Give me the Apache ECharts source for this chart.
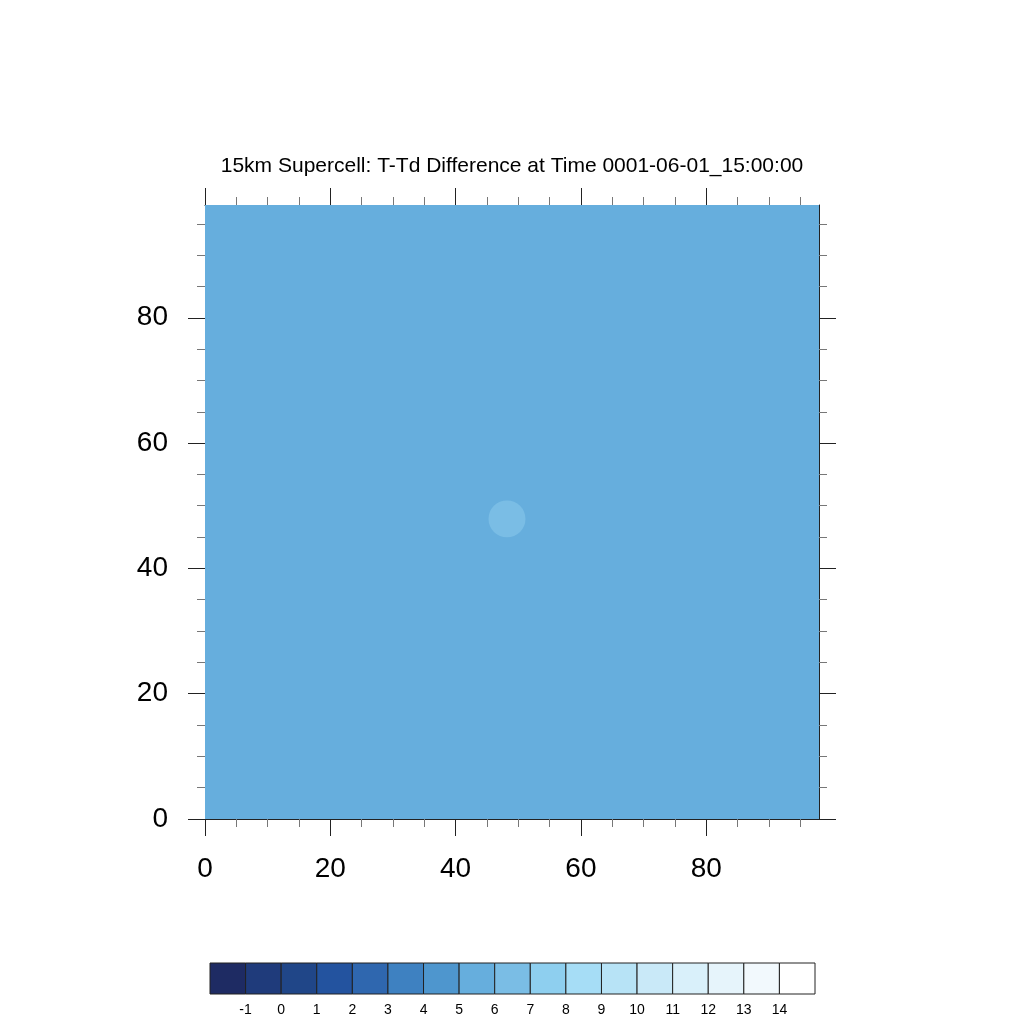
<!DOCTYPE html>
<html>
<head>
<meta charset="utf-8">
<script src="https://cdn.jsdelivr.net/npm/echarts@6/dist/echarts.min.js"></script>
<style>html,body{margin:0;padding:0;background:#fff}#c{width:1024px;height:1024px}</style>
</head>
<body>
<div id="c"></div>
<script>
// ---- data ----
const titleText = '15km Supercell: T-Td Difference at Time 0001-06-01_15:00:00';
const domainMax = 98;
const majorTicks = [0, 20, 40, 60, 80];
const minorTicks = [5, 10, 15, 25, 30, 35, 45, 50, 55, 65, 70, 75, 85, 90, 95];
const levels = [-1, 0, 1, 2, 3, 4, 5, 6, 7, 8, 9, 10, 11, 12, 13, 14];
const colors = ['#1e2b63', '#1f3b7b', '#204688', '#23539f', '#2f67af', '#3e81c1', '#4e96ce', '#66aedd',
                '#7abde5', '#8ecfef', '#a6ddf6', '#b7e3f6', '#c9e9f8', '#d9f0fa', '#e6f4fb', '#f2f9fd', '#ffffff'];
// background field value (x0, x1, y0, y1, value)
const fieldRegions = [[0, 98, 0, 98, 5.5]];
// localized bubble (cx, cy, radius, value)
const fieldBlobs = [[48.2, 47.9, 2.95, 6.5]];

function colorFor(v) {
  let k = 0;
  for (const l of levels) if (v >= l) k++;
  return colors[k];
}

const chart = echarts.init(document.getElementById('c'));
const FONT = '"Liberation Sans", Helvetica, Arial, sans-serif';
const axisCol = '#222';
const minorCol = '#777';

function majorAxis(pos, showLabel, isY) {
  return {
    type: 'value', gridIndex: 0, position: pos, min: 0, max: domainMax,
    axisLine: { show: true, onZero: false, lineStyle: { color: axisCol, width: 1 } },
    axisTick: { show: true, inside: false, length: 17, customValues: majorTicks, lineStyle: { color: axisCol, width: 1 } },
    axisLabel: { show: showLabel, customValues: majorTicks, margin: isY ? 37 : 36, fontSize: 28, color: '#000', fontFamily: FONT,
                 padding: isY ? [4, 0, 0, 0] : 0 },
    splitLine: { show: false }, minorTick: { show: false }
  };
}
function minorAxis(pos) {
  return {
    type: 'value', gridIndex: 0, position: pos, min: 0, max: domainMax,
    axisLine: { show: false, onZero: false },
    axisTick: { show: true, inside: false, length: 8, customValues: minorTicks, lineStyle: { color: minorCol, width: 1 } },
    axisLabel: { show: false }, splitLine: { show: false }
  };
}

const option = {
  backgroundColor: '#fff',
  animation: false,
  title: {
    text: titleText, left: 'center', top: 151,
    textStyle: { fontSize: 21, fontWeight: 'normal', color: '#000', fontFamily: FONT }
  },
  grid: [
    { left: 205, top: 205, width: 614, height: 614, containLabel: false },
    { left: 210, top: 963, width: 605, height: 31, containLabel: false }
  ],
  xAxis: [
    majorAxis('bottom', true, false),
    majorAxis('top', false, false),
    minorAxis('bottom'),
    minorAxis('top'),
    {
      type: 'value', gridIndex: 1, min: 0, max: colors.length, position: 'bottom',
      axisLine: { show: false }, axisTick: { show: false }, splitLine: { show: false },
      axisLabel: {
        show: true, customValues: levels.map((l, i) => i + 1), margin: 9, fontSize: 14, color: '#000', fontFamily: FONT,
        formatter: v => String(levels[Math.round(v) - 1])
      }
    }
  ],
  yAxis: [
    majorAxis('left', true, true),
    majorAxis('right', false, true),
    minorAxis('left'),
    minorAxis('right'),
    {
      type: 'value', gridIndex: 1, min: 0, max: 1, show: false
    }
  ],
  series: [
    {
      type: 'custom', xAxisIndex: 0, yAxisIndex: 0, clip: true, z: 1,
      data: fieldRegions,
      renderItem: (params, api) => {
        const p0 = api.coord([api.value(0), api.value(3)]);
        const p1 = api.coord([api.value(1), api.value(2)]);
        return { type: 'rect', shape: { x: p0[0], y: p0[1], width: p1[0] - p0[0], height: p1[1] - p0[1] },
                 style: { fill: colorFor(api.value(4)) } };
      }
    },
    {
      type: 'custom', xAxisIndex: 0, yAxisIndex: 0, clip: true, z: 2,
      data: fieldBlobs,
      renderItem: (params, api) => {
        const c = api.coord([api.value(0), api.value(1)]);
        const s = api.size([api.value(2), api.value(2)]);
        return { type: 'circle', shape: { cx: c[0], cy: c[1], r: s[0] },
                 style: { fill: colorFor(api.value(3)) } };
      }
    },
    {
      type: 'custom', xAxisIndex: 4, yAxisIndex: 4, z: 3,
      data: colors.map((c, i) => [i, i + 1]),
      renderItem: (params, api) => {
        const p0 = api.coord([api.value(0), 1]);
        const p1 = api.coord([api.value(1), 0]);
        return { type: 'rect', shape: { x: p0[0], y: p0[1], width: p1[0] - p0[0], height: p1[1] - p0[1] },
                 style: { fill: colors[params.dataIndex], stroke: '#222', lineWidth: 1 } };
      }
    }
  ]
};
chart.setOption(option);
</script>
</body>
</html>
